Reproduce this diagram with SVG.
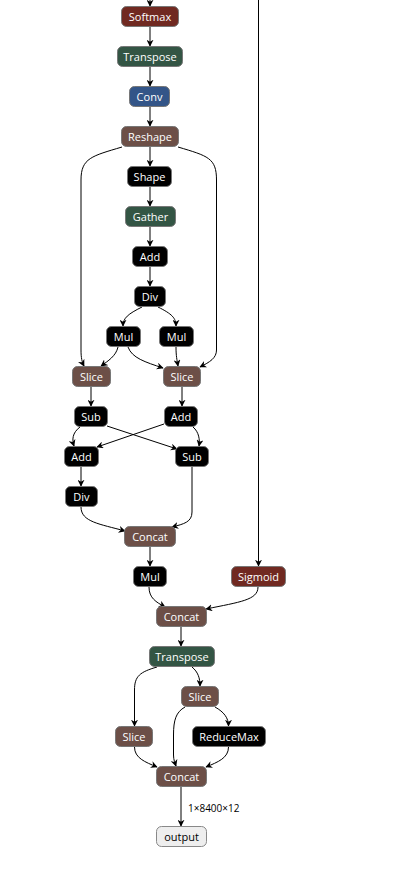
<svg xmlns="http://www.w3.org/2000/svg" width="417" height="872" viewBox="0 0 417 872">
<defs>
<marker id="arr" viewBox="0 0 10 10" refX="9" refY="5" markerWidth="7" markerHeight="7" orient="auto" markerUnits="userSpaceOnUse">
<path d="M0,0 L10,5 L0,10 L3,5 z" fill="#000"/>
</marker>
<style>
.e{fill:none;stroke:#000;stroke-width:1;marker-end:url(#arr)}
.n rect{stroke:#777;stroke-width:1}
.n text{font-family:"Open Sans","DejaVu Sans",sans-serif;font-size:11px;fill:#fff;text-anchor:middle}
.act rect{fill:#702921}
.tr rect{fill:#335544}
.ly rect{fill:#335588}
.sh rect{fill:#6c4f47}
.df rect{fill:#000}
.io rect{fill:#eee;stroke:#888}
.io text{fill:#000}
.lbl{font-family:"Open Sans","DejaVu Sans",sans-serif;font-size:10px;fill:#000}
</style>
</defs>
<rect width="417" height="872" fill="#fff"/>
<g id="edges">
<path class="e" d="M150,0 L150,6"/>
<path class="e" d="M150,27 L150,46"/>
<path class="e" d="M150,67 L150,86"/>
<path class="e" d="M150,107 L150,126"/>
<path class="e" d="M150,147 L150,166"/>
<path class="e" d="M122,147 C92,156 81,158 81,180 L81,350 C81,358 82,362 84,366"/>
<path class="e" d="M178,147 C208,156 216.5,158 216.5,180 L216.5,350 C216.5,358 210,362 200,367"/>
<path class="e" d="M150,187 L150,206"/>
<path class="e" d="M150,227 L150,246"/>
<path class="e" d="M150,267 L150,286"/>
<path class="e" d="M142,307 C128,314 123,318 123,326"/>
<path class="e" d="M158,307 C172,314 176,318 176,326"/>
<path class="e" d="M118,347 C116,356 108,361 101,366"/>
<path class="e" d="M128,347 C132,358 145,362 163,368"/>
<path class="e" d="M176,347 C176,356 177,360 178,366"/>
<path class="e" d="M258.5,0 L258.5,566"/>
<path class="e" d="M91,387 L91,406"/>
<path class="e" d="M182,387 L182,406"/>
<path class="e" d="M80,427 C72,433 72,440 74,446"/>
<path class="e" d="M107,426 L177,449"/>
<path class="e" d="M164,424 L97,447"/>
<path class="e" d="M193,427 C199,432 200,440 199,446"/>
<path class="e" d="M81,467 L81,486"/>
<path class="e" d="M81,507 C81,522 100,524 125,531"/>
<path class="e" d="M192,467 L192,512 C192,522 184,524 172,527"/>
<path class="e" d="M150,547 L150,566"/>
<path class="e" d="M149,587 C149,598 156,602 165,607"/>
<path class="e" d="M258,587 C258,600 240,602 206,609"/>
<path class="e" d="M181,627 L181,646"/>
<path class="e" d="M157,667 C140,672 134.5,676 134.5,690 L134.5,726"/>
<path class="e" d="M192,667 C198,672 200,678 200,686"/>
<path class="e" d="M185,707 C176,712 173.5,720 173.5,735 L173.5,755 C173.5,760 175,763 176,766"/>
<path class="e" d="M215,707 C224,712 228.5,718 228.5,726"/>
<path class="e" d="M134.5,747 C134.5,758 145,762 157,767"/>
<path class="e" d="M228.5,747 C228.5,758 218,762 206,767"/>
<path class="e" d="M181,787 L181,826"/>
<text class="lbl" x="188" y="812">1×8400×12</text>
</g>
<g id="n_softmax" class="n act"><rect x="121.5" y="6.5" width="57" height="20" rx="5"/><text x="150" y="20.5">Softmax</text></g>
<g id="n_transpose1" class="n tr"><rect x="117.5" y="46.5" width="65" height="20" rx="5"/><text x="150" y="60.5">Transpose</text></g>
<g id="n_conv" class="n ly"><rect x="129.5" y="86.5" width="40" height="20" rx="5"/><text x="149.5" y="100.5">Conv</text></g>
<g id="n_reshape" class="n sh"><rect x="121.5" y="126.5" width="57" height="20" rx="5"/><text x="150" y="140.5">Reshape</text></g>
<g id="n_shape" class="n df"><rect x="127.5" y="166.5" width="44" height="20" rx="5"/><text x="149.5" y="180.5">Shape</text></g>
<g id="n_gather" class="n tr"><rect x="125.5" y="206.5" width="50" height="20" rx="5"/><text x="150.5" y="220.5">Gather</text></g>
<g id="n_add1" class="n df"><rect x="132.5" y="246.5" width="35" height="20" rx="5"/><text x="150" y="260.5">Add</text></g>
<g id="n_div1" class="n df"><rect x="134.5" y="286.5" width="31" height="20" rx="5"/><text x="150" y="300.5">Div</text></g>
<g id="n_mul_l" class="n df"><rect x="106.5" y="326.5" width="34" height="20" rx="5"/><text x="123.5" y="340.5">Mul</text></g>
<g id="n_mul_r" class="n df"><rect x="159.5" y="326.5" width="34" height="20" rx="5"/><text x="176.5" y="340.5">Mul</text></g>
<g id="n_slice_l" class="n sh"><rect x="72.5" y="366.5" width="38" height="20" rx="5"/><text x="91.5" y="380.5">Slice</text></g>
<g id="n_slice_r" class="n sh"><rect x="163.5" y="366.5" width="37" height="20" rx="5"/><text x="182" y="380.5">Slice</text></g>
<g id="n_sub_l" class="n df"><rect x="74.5" y="406.5" width="33" height="20" rx="5"/><text x="91" y="420.5">Sub</text></g>
<g id="n_add_r" class="n df"><rect x="164.5" y="406.5" width="33" height="20" rx="5"/><text x="181" y="420.5">Add</text></g>
<g id="n_add_l" class="n df"><rect x="64.5" y="446.5" width="34" height="20" rx="5"/><text x="81.5" y="460.5">Add</text></g>
<g id="n_sub_r" class="n df"><rect x="175.5" y="446.5" width="33" height="20" rx="5"/><text x="192" y="460.5">Sub</text></g>
<g id="n_div_l" class="n df"><rect x="65.5" y="486.5" width="32" height="20" rx="5"/><text x="81.5" y="500.5">Div</text></g>
<g id="n_concat1" class="n sh"><rect x="124.5" y="526.5" width="51" height="20" rx="5"/><text x="150" y="540.5">Concat</text></g>
<g id="n_mul2" class="n df"><rect x="133.5" y="566.5" width="33" height="20" rx="5"/><text x="150" y="580.5">Mul</text></g>
<g id="n_sigmoid" class="n act"><rect x="231.5" y="566.5" width="54" height="20" rx="5"/><text x="258.5" y="580.5">Sigmoid</text></g>
<g id="n_concat2" class="n sh"><rect x="156.5" y="606.5" width="50" height="20" rx="5"/><text x="181.5" y="620.5">Concat</text></g>
<g id="n_transpose2" class="n tr"><rect x="149.5" y="646.5" width="65" height="20" rx="5"/><text x="182" y="660.5">Transpose</text></g>
<g id="n_slice_m" class="n sh"><rect x="181.5" y="686.5" width="37" height="20" rx="5"/><text x="200" y="700.5">Slice</text></g>
<g id="n_slice_l2" class="n sh"><rect x="115.5" y="726.5" width="37" height="20" rx="5"/><text x="134" y="740.5">Slice</text></g>
<g id="n_reducemax" class="n df"><rect x="192.5" y="726.5" width="73" height="20" rx="5"/><text x="229" y="740.5">ReduceMax</text></g>
<g id="n_concat3" class="n sh"><rect x="156.5" y="766.5" width="50" height="20" rx="5"/><text x="181.5" y="780.5">Concat</text></g>
<g id="n_output" class="n io"><rect x="156.5" y="826.5" width="50" height="20" rx="5"/><text x="181.5" y="840.5">output</text></g>
</svg>
